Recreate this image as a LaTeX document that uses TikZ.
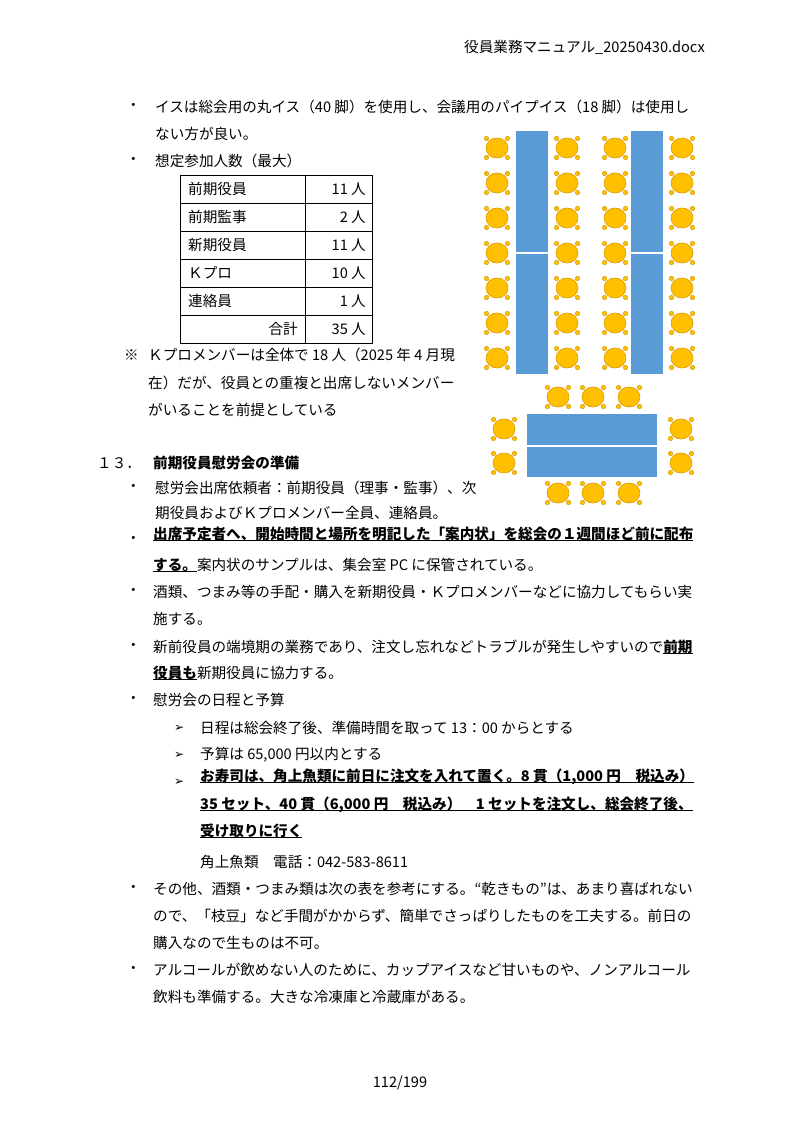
\documentclass[tikz,border=0pt]{standalone}
\usepackage{fontspec}
\setmainfont{Noto Sans CJK JP}
\newfontfamily\symfont{DejaVu Sans}
\usetikzlibrary{calc}
\definecolor{tblue}{HTML}{5B9BD5}
\definecolor{cyel}{HTML}{FFC000}
\definecolor{cedge}{HTML}{D99A00}
\newcommand{\ul}[1]{\underline{\smash{#1}}}
\tikzset{
  txt/.style={anchor=west,inner sep=0pt,font=\fontsize{14.6}{14.6}\selectfont},
  chair/.pic={
    \foreach \dx/\dy in {-10.5/-9.5,10.5/-9.5,-10.5/9.5,10.5/9.5}
      \fill[cyel,draw=cedge,line width=0.5pt] (\dx,\dy) circle (2.2);
    \draw[fill=cyel,draw=cedge,line width=0.6pt] (0,0) ellipse (11 and 10);
  }
}
\begin{document}
\begin{tikzpicture}[x=1pt,y=-1pt]
\useasboundingbox (0,0) rectangle (800,1132);
% header and footer
\node[txt,anchor=east] (head) at (705,47) {役員業務マニュアル\_20250430.docx};
\node[txt,anchor=center] (foot) at (400,1083) {112/199};

% bullets
\foreach \y in {107,161,488,540,592,647,700,889,970}
  \node[txt] at (126,\y) {・};
\foreach \y in {728,755,782}
  \node[txt,font=\fontsize{12}{12}\symfont] at (174,\y) {➢};

\node[txt] (l1) at (155,107) {イスは総会用の丸イス（40 脚）を使用し、会議用のパイプイス（18 脚）は使用し};
\node[txt] (l2) at (155,134) {ない方が良い。};
\node[txt] (l3) at (155,161) {想定参加人数（最大）};

% participants table
\draw[line width=0.6pt] (180,175) rectangle (372,343);
\draw[line width=0.6pt] (305,175) -- (305,343);
\foreach \y in {203,231,259,287,315}
  \draw[line width=0.6pt] (180,\y) -- (372,\y);
\foreach \y/\a/\b in {189/前期役員/11 人,217/前期監事/2 人,245/新期役員/11 人,273/Ｋプロ/10 人,301/連絡員/1 人}{
  \node[txt] at (188,\y) {\a};
  \node[txt,anchor=east] at (366,\y) {\b};
}
\node[txt,anchor=east] (sum) at (298,329) {合計};
\node[txt,anchor=east] (sumv) at (366,329) {35 人};

\node[txt] (n0) at (124,355) {※};
\node[txt] (n1) at (148,355) {Ｋプロメンバーは全体で 18 人（2025 年 4 月現};
\node[txt] (n2) at (148,383) {在）だが、役員との重複と出席しないメンバー};
\node[txt] (n3) at (148,410) {がいることを前提としている};

% section 13
\node[txt] (s13) at (97,463) {１３．};
\node[txt,font=\fontsize{14.6}{14.6}\selectfont\bfseries] (s13t) at (153,463) {前期役員慰労会の準備};

\node[txt] (a1) at (155,488) {慰労会出席依頼者：前期役員（理事・監事）、次};
\node[txt] (a2) at (155,513) {期役員およびＫプロメンバー全員、連絡員。};
\node[txt] (b1) at (153,540) {\bfseries\ul{出席予定者へ、開始時間と場所を明記した「案内状」を総会の１週間ほど前に配布}};
\node[txt] (b2) at (153,565) {\textbf{\ul{する。}}案内状のサンプルは、集会室 PC に保管されている。};
\node[txt] (c1) at (153,592) {酒類、つまみ等の手配・購入を新期役員・Ｋプロメンバーなどに協力してもらい実};
\node[txt] (c2) at (153,619) {施する。};
\node[txt] (d1) at (153,647) {新前役員の端境期の業務であり、注文し忘れなどトラブルが発生しやすいので\textbf{\ul{前期}}};
\node[txt] (d2) at (153,673) {\textbf{\ul{役員も}}新期役員に協力する。};
\node[txt] (e1) at (153,700) {慰労会の日程と予算};
\node[txt] (f1) at (200,728) {日程は総会終了後、準備時間を取って 13：00 からとする};
\node[txt] (f2) at (200,755) {予算は 65,000 円以内とする};
\node[txt] (f3) at (200,782) {\bfseries\ul{お寿司は、角上魚類に前日に注文を入れて置く。8 貫（1,000 円　税込み）}};
\node[txt] (f4) at (200,810) {\bfseries\ul{35 セット、40 貫（6,000 円　税込み）　1 セットを注文し、総会終了後、}};
\node[txt] (f5) at (200,837) {\bfseries\ul{受け取りに行く}};
\node[txt] (f6) at (200,862) {角上魚類　電話：042-583-8611};
\node[txt] (g1) at (153,889) {その他、酒類・つまみ類は次の表を参考にする。“乾きもの”は、あまり喜ばれない};
\node[txt] (g2) at (153,916) {ので、「枝豆」など手間がかからず、簡単でさっぱりしたものを工夫する。前日の};
\node[txt] (g3) at (153,943) {購入なので生ものは不可。};
\node[txt] (h1) at (153,970) {アルコールが飲めない人のために、カップアイスなど甘いものや、ノンアルコール};
\node[txt] (h2) at (153,997) {飲料も準備する。大きな冷凍庫と冷蔵庫がある。};

% seating plan: tables
\foreach \x in {516,631}{
  \fill[tblue] (\x,131) rectangle ++(32,121);
  \fill[tblue] (\x,253.5) rectangle ++(32,120);
}
\fill[tblue] (527,414) rectangle (657,445);
\fill[tblue] (527,446.5) rectangle (657,477);
% seating plan: chairs
\foreach \x in {497,567,615,682}
  \foreach \y in {148,183,218,253,288,323,358}
    \pic at (\x,\y) {chair};
\foreach \x in {558,593,629}{
  \pic at (\x,397) {chair};
  \pic at (\x,493) {chair};
}
\foreach \y in {429,463}{
  \pic at (504,\y) {chair};
  \pic at (681,\y) {chair};
}
\end{tikzpicture}
\end{document}
